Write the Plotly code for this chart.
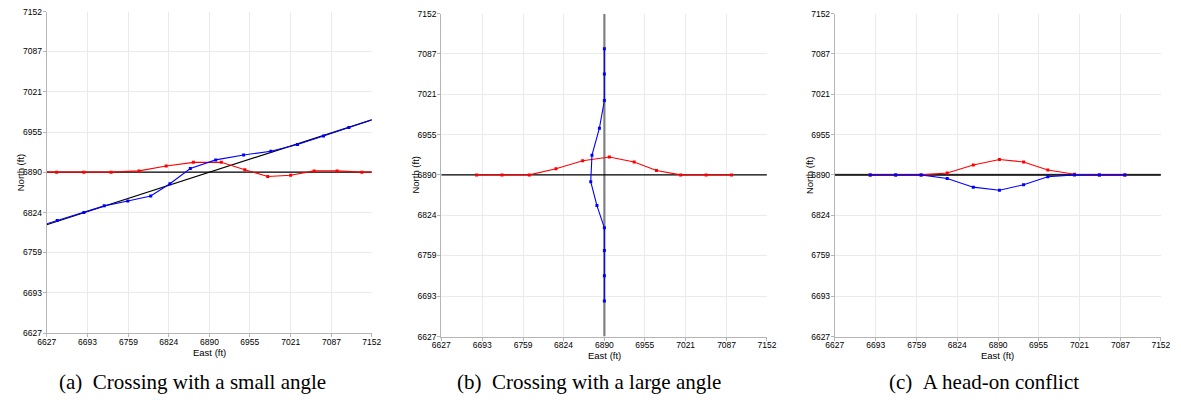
import plotly.graph_objects as go

W, H = 1181, 404

# ---------------- data ----------------
tick_vals = [6627, 6693, 6759, 6824, 6890, 6955, 7021, 7087, 7152]
tick_text = ["6627", "6693", "6759", "6824", "6890", "6955", "7021", "7087", "7152"]

# (a) crossing with a small angle
a_red_x = [6599, 6643, 6687, 6731, 6776, 6820, 6864, 6909, 6947, 6984, 7021, 7059, 7096, 7136, 7180]
a_red_y = [6890, 6890, 6890, 6890, 6892, 6900, 6906, 6906, 6894, 6883, 6885, 6892, 6892, 6890, 6890]
a_blue_x = [6602, 6644, 6687, 6720, 6758, 6795, 6826, 6859, 6900, 6945, 6989, 7032, 7074, 7115, 7157]
a_blue_y = [6798, 6811, 6824, 6835, 6843, 6851, 6871, 6896, 6910, 6918, 6924, 6935, 6949, 6963, 6977]
a_own_x = [6627, 7152]
a_own_y = [6890, 6890]
a_int_x = [6627, 7152]
a_int_y = [6804.3, 6975.3]

# (b) crossing with a large angle
b_red_x = [6684, 6725, 6769, 6812, 6855, 6898, 6938, 6974, 7013, 7054, 7095]
b_red_y = [6890, 6890, 6890, 6900, 6913, 6919, 6911, 6897, 6890, 6890, 6890]
b_blue_x = [6890, 6890, 6890, 6882, 6870, 6868, 6878, 6890, 6890, 6890, 6890]
b_blue_y = [7095, 7054, 7011, 6966, 6922, 6879, 6840, 6804, 6767, 6726, 6685]
b_own_x = [6627, 7152]
b_own_y = [6890, 6890]
b_int_x = [6890, 6890]
b_int_y = [6627, 7152]

# (c) head-on conflict
c_red_x = [6684, 6725, 6766, 6808, 6850, 6892, 6931, 6970, 7013, 7053, 7094]
c_red_y = [6890, 6890, 6890, 6893, 6906, 6915, 6911, 6898, 6891, 6890, 6890]
c_blue_x = [6684, 6725, 6766, 6808, 6850, 6892, 6931, 6970, 7013, 7053, 7094]
c_blue_y = [6890, 6890, 6890, 6884, 6870, 6865, 6874, 6887, 6890, 6890, 6890]
c_own_x = [6627, 7152]
c_own_y = [6890, 6890]
c_int_x = [6627, 7152]
c_int_y = [6890, 6890]

captions = ["(a)\u2002Crossing with a small angle",
            "(b)\u2002Crossing with a large angle",
            "(c)\u2002A head-on conflict"]

# ---------------- layout geometry (pixels) ----------------
panels = [
    dict(x0=38.3, x1=368.7, top=6.7, bot=336.7, ylab=12.0, cap=187),
    dict(x0=439.3, x1=770.3, top=9.0, bot=340.0, ylab=413.0, cap=589),
    dict(x0=839.3, x1=1170.7, top=9.0, bot=340.0, ylab=813.0, cap=991),
]

RED = "#ff0000"
BLUE = "#0000ff"
GRAY = "#808080"

fig = go.Figure()

def add_line(x, y, idx, color, width, markers=False):
    suffix = "" if idx == 1 else str(idx)
    fig.add_trace(go.Scatter(
        x=x, y=y, xaxis="x" + suffix, yaxis="y" + suffix,
        mode="lines+markers" if markers else "lines",
        line=dict(color=color, width=width),
        marker=dict(symbol="square", size=3, color=color),
        showlegend=False, hoverinfo="skip",
    ))

# (a)
add_line(a_own_x, a_own_y, 1, "#000000", 1.1)
add_line(a_int_x, a_int_y, 1, "#000000", 1.1)
add_line(a_red_x, a_red_y, 1, RED, 1.1, True)
add_line(a_blue_x, a_blue_y, 1, BLUE, 1.1, True)
# (b)
add_line(b_int_x, b_int_y, 2, GRAY, 2.2)
add_line(b_own_x, b_own_y, 2, "#000000", 1.1)
add_line(b_red_x, b_red_y, 2, RED, 1.1, True)
add_line(b_blue_x, b_blue_y, 2, BLUE, 1.1, True)
# (c)
add_line(c_int_x, c_int_y, 3, GRAY, 2.2)
add_line(c_own_x, c_own_y, 3, "#000000", 1.1)
add_line(c_red_x, c_red_y, 3, RED, 1.1, True)
add_line(c_blue_x, c_blue_y, 3, BLUE, 1.1, True)

tickfont = dict(family="Liberation Sans, Arial, sans-serif", size=8.5, color="#000000")
axis_common = dict(
    range=[6627, 7152], tickmode="array", tickvals=tick_vals, ticktext=tick_text,
    showgrid=True, gridcolor="#ebebeb", gridwidth=1,
    showline=True, linecolor="#b5b5b5", linewidth=1,
    ticks="outside", ticklen=3, tickcolor="#b5b5b5", tickwidth=1,
    tickfont=tickfont, zeroline=False, fixedrange=True,
)

layout = dict(
    width=W, height=H, margin=dict(l=0, r=0, t=0, b=0),
    paper_bgcolor="white", plot_bgcolor="white",
    annotations=[],
)
for i, p in enumerate(panels, start=1):
    s = "" if i == 1 else str(i)
    layout["xaxis" + s] = dict(axis_common, domain=[p["x0"] / W, p["x1"] / W],
                               anchor="y" + s, ticklabelstandoff=-3)
    layout["yaxis" + s] = dict(axis_common, domain=[1 - p["bot"] / H, 1 - p["top"] / H],
                               anchor="x" + s, ticklabelstandoff=-1)
    # axis titles
    layout["annotations"].append(dict(
        text="East (ft)", xref="paper", yref="paper",
        x=(p["x0"] + p["x1"]) / 2 / W, y=1 - (p["bot"] + 19.5) / H,
        xanchor="center", yanchor="middle", showarrow=False,
        font=dict(family="Liberation Sans, Arial, sans-serif", size=9.5, color="#000000")))
    layout["annotations"].append(dict(
        text="North (ft)", xref="paper", yref="paper",
        x=p["ylab"] / W, y=1 - (p["top"] + p["bot"]) / 2 / H,
        xanchor="center", yanchor="middle", showarrow=False, textangle=-90,
        font=dict(family="Liberation Sans, Arial, sans-serif", size=9.5, color="#000000")))
    # caption
    layout["annotations"].append(dict(
        text=captions[i - 1], xref="paper", yref="paper",
        x=p["cap"] / W, y=1 - 387 / H,
        xanchor="center", yanchor="middle", showarrow=False,
        font=dict(family="Liberation Serif, Times New Roman, serif", size=21, color="#000000")))

fig.update_layout(**layout)
fig.write_html("out.html", config={"displayModeBar": False},
               post_script="document.body.style.margin='0px';document.body.style.overflow='hidden';")
